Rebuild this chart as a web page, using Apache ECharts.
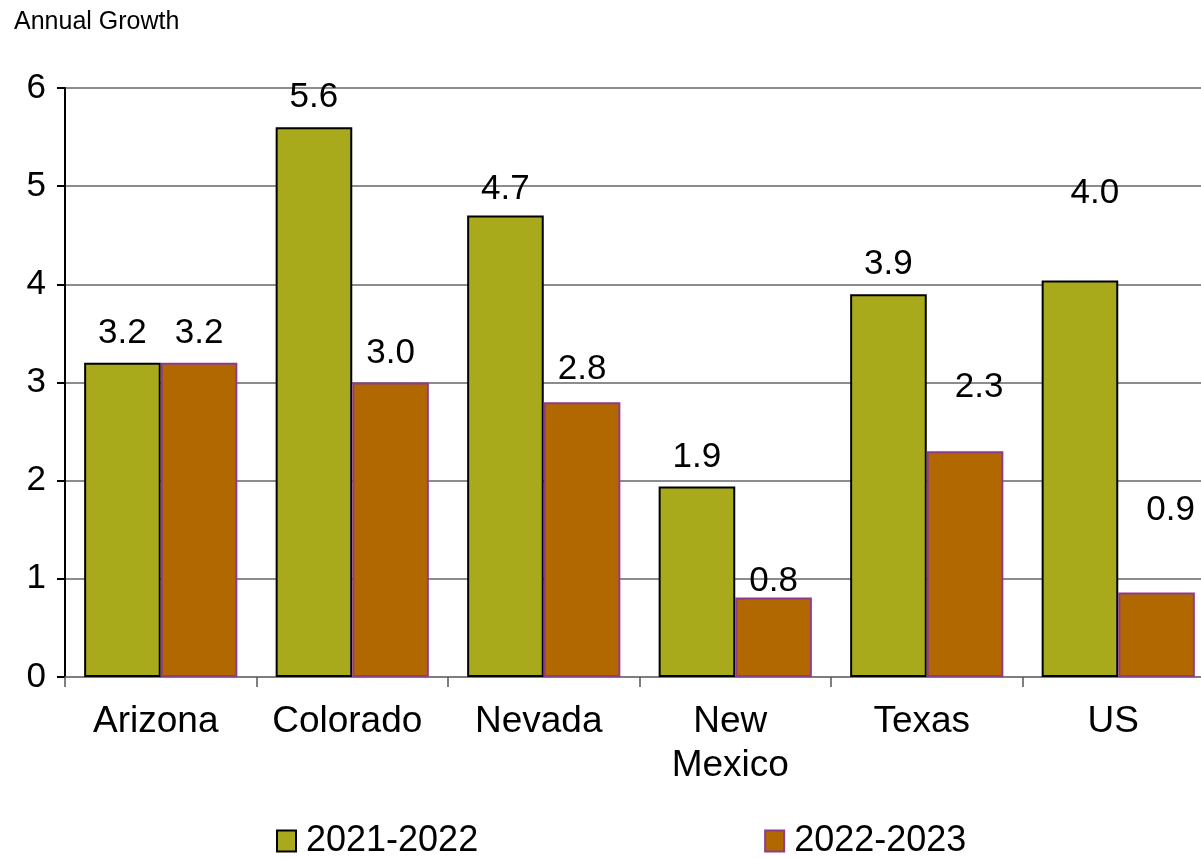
<!DOCTYPE html>
<html>
<head>
<meta charset="utf-8">
<title>Annual Growth</title>
<script src="https://cdn.jsdelivr.net/npm/echarts@6/dist/echarts.min.js"></script>
<style>
  html, body { margin: 0; padding: 0; background: #ffffff; overflow: hidden; }
  /* the plot runs past the right edge of the page, so the last category is clipped */
  #chart { width: 1214px; height: 859px; }
</style>
</head>
<body>
<div id="chart"></div>
<script>
// Regions compared
const categories = ['Arizona', 'Colorado', 'Nevada', 'New\nMexico', 'Texas', 'US'];

// Annual growth by period
const seriesNames = ['2021-2022', '2022-2023'];
const growth2122 = [3.2, 5.6, 4.7, 1.94, 3.9, 4.04];
const growth2223 = [3.2, 3.0, 2.8, 0.81, 2.3, 0.86];

// Value axis ticks
const yTicks = [0, 1, 2, 3, 4, 5, 6];

const FONT = '"Liberation Sans", Arial, Helvetica, sans-serif';

// Hand placement of a few value labels: [dx, dy] per series / category index
const labelNudge = {
  '0|2': [0, 3],
  '0|5': [15, -58],
  '1|2': [0, -3],
  '1|3': [0, 13],
  '1|4': [14, -34],
  '1|5': [14, -53]
};

const seriesStyles = [
  { color: '#A8AA1C', borderColor: '#000000' },
  { color: '#B16801', borderColor: '#8E3B8A' }
];

function buildData(values, sIdx) {
  return values.map(function (v, i) {
    const nudge = labelNudge[sIdx + '|' + i];
    const item = { value: v };
    if (nudge) {
      item.label = { offset: nudge };
    }
    return item;
  });
}

const chart = echarts.init(document.getElementById('chart'), null, { renderer: 'canvas' });

const option = {
  animation: false,
  backgroundColor: '#ffffff',
  textStyle: { fontFamily: FONT },
  title: {
    text: 'Annual Growth',
    left: 9,
    top: 5,
    textStyle: { fontFamily: FONT, fontSize: 25, fontWeight: 'normal', color: '#000' }
  },
  legend: {
    left: 271,
    top: 818,
    itemWidth: 19,
    itemHeight: 21,
    itemGap: 286,
    icon: 'rect',
    data: seriesNames,
    itemStyle: { borderWidth: 2 },
    textStyle: { fontFamily: FONT, fontSize: 36, color: '#000', padding: [0, 0, 0, 5] }
  },
  grid: {
    left: 65,
    top: 88,
    right: 0,
    height: 589,
    containLabel: false
  },
  xAxis: {
    type: 'category',
    data: categories,
    axisLine: { show: true, lineStyle: { color: '#7a7a7a', width: 1.5 } },
    axisTick: { show: true, alignWithLabel: false, length: 10, lineStyle: { color: '#555', width: 1.5 } },
    axisLabel: {
      fontFamily: FONT,
      fontSize: 37,
      color: '#000',
      margin: 23,
      lineHeight: 44,
      padding: [0, 10, 0, 0],
      interval: 0
    }
  },
  yAxis: {
    type: 'value',
    min: yTicks[0],
    max: yTicks[yTicks.length - 1],
    interval: 1,
    axisLine: { show: true, lineStyle: { color: '#000', width: 2 } },
    axisTick: { show: true, length: 8, lineStyle: { color: '#000', width: 2 } },
    axisLabel: {
      fontFamily: FONT,
      fontSize: 35,
      color: '#000',
      margin: 19,
      formatter: function (v) { return yTicks.indexOf(v) >= 0 ? String(v) : ''; }
    },
    splitLine: { show: true, lineStyle: { color: '#8c8c8c', width: 2 } }
  },
  series: [growth2122, growth2223].map(function (vals, sIdx) {
    return {
      name: seriesNames[sIdx],
      type: 'bar',
      data: buildData(vals, sIdx),
      barGap: '0%',
      barCategoryGap: '20%',
      itemStyle: {
        color: seriesStyles[sIdx].color,
        borderColor: seriesStyles[sIdx].borderColor,
        borderWidth: 2
      },
      label: {
        show: true,
        position: 'top',
        distance: 12,
        fontFamily: FONT,
        fontSize: 35,
        color: '#000',
        formatter: function (p) { return p.value.toFixed(1); }
      }
    };
  })
};

chart.setOption(option);
</script>
</body>
</html>
